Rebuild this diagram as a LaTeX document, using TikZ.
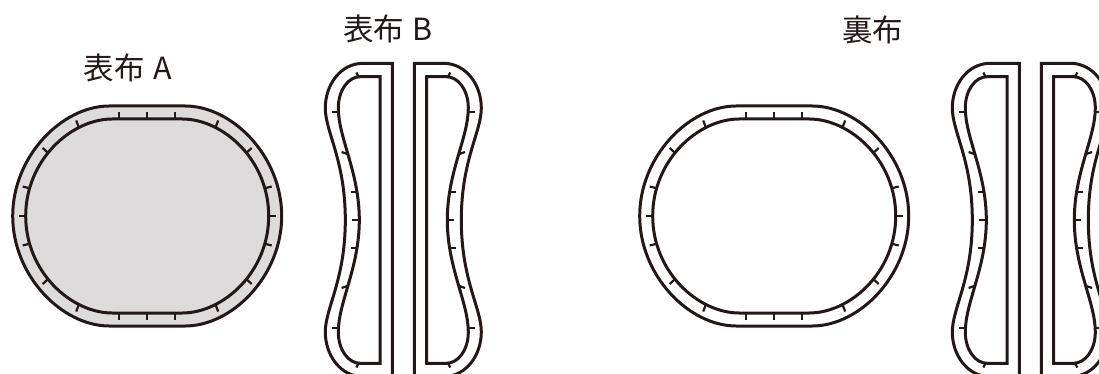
\documentclass[tikz,border=0pt]{standalone}
\usepackage{fontspec}
\setmainfont{Noto Sans CJK JP}
\definecolor{ink}{HTML}{231815}
\definecolor{cloth}{HTML}{DDDBDC}
\tikzset{
  x=1pt,y=-1pt,
  seam/.style={draw=ink,line width=3pt,line join=miter},
  tickmark/.style={draw=ink,line width=2.2pt},
  caption/.style={font=\fontsize{30.5pt}{34pt}\selectfont,text=ink,inner sep=0pt,anchor=center},
  pics/oval/.style={code={
    \path[seam,#1] (-38,-110) -- (38,-110)
      .. controls (85,-110) and (134.5,-60) .. (134.5,0)
      .. controls (134.5,60) and (85,110) .. (38,110) -- (-38,110)
      .. controls (-85,110) and (-134.5,60) .. (-134.5,0)
      .. controls (-134.5,-60) and (-85,-110) .. (-38,-110) -- cycle;
    \path[seam,#1] (-35,-97) -- (35,-97)
      .. controls (76,-97) and (121.5,-56) .. (121.5,0)
      .. controls (121.5,56) and (76,97) .. (35,97) -- (-35,97)
      .. controls (-76,97) and (-121.5,56) .. (-121.5,0)
      .. controls (-121.5,-56) and (-76,-97) .. (-35,-97) -- cycle;
    \foreach \sx in {-1,1}{
      \draw[tickmark] (\sx*121.5,0) -- (\sx*128.5,0);
      \foreach \sy in {-1,1}{
        \draw[tickmark] (\sx*28,\sy*97) -- (\sx*28,\sy*104);
        \draw[tickmark] (\sx*68.5,\sy*89) -- (\sx*71,\sy*95.5);
        \draw[tickmark] (\sx*99,\sy*63) -- (\sx*104.5,\sy*68);
        \draw[tickmark] (\sx*117.5,\sy*27.7) -- (\sx*124.5,\sy*29.5);
      }
    }
    \foreach \sy in {-1,1} \draw[tickmark] (0,\sy*97) -- (0,\sy*104);
  }},
  pics/halfpiece/.style={code={
    \draw[seam] (-11,-156.7) -- (-40,-156.7)
      .. controls (-63,-156.7) and (-78,-135) .. (-78,-112)
      .. controls (-78,-88) and (-58,-60) .. (-58,0)
      .. controls (-58,60) and (-78,88) .. (-78,112)
      .. controls (-78,135) and (-63,156.7) .. (-40,156.7) -- (-11,156.7) -- cycle;
    \draw[seam] (-23.3,-143.3) -- (-43,-143.3)
      .. controls (-55,-143.3) and (-65,-130) .. (-65,-112)
      .. controls (-65,-82) and (-44,-48) .. (-44,0)
      .. controls (-44,48) and (-65,82) .. (-65,112)
      .. controls (-65,130) and (-55,143.3) .. (-43,143.3) -- (-23.3,143.3) -- cycle;
    \draw[tickmark] (-44,0) -- (-51,0);
    \foreach \sy in {-1,1}{
      \draw[tickmark] (-44.5,\sy*143) -- (-47,\sy*147.5);
      \draw[tickmark] (-65,\sy*108.3) -- (-71.3,\sy*108.3);
      \draw[tickmark] (-56,\sy*66) -- (-61.7,\sy*68);
      \draw[tickmark] (-46.6,\sy*28.3) -- (-52.6,\sy*28.3);
    }
  }},
  pics/pieces/.style={code={
    \pic {halfpiece};
    \pic[xscale=-1] {halfpiece};
  }}
}
\begin{document}
\begin{tikzpicture}
\useasboundingbox (0,0) rectangle (1099,374);
\clip (0,0) rectangle (1099,374);
\pic at (147.2,216) {oval={fill=cloth}};
\pic at (403.3,220) {pieces};
\pic at (774.2,216) {oval={}};
\pic at (1030.3,220) {pieces};
\node[caption] (labelA) at (128,67.5) {表布\hspace{2pt} A};
\node[caption] (labelB) at (388,29) {表布\hspace{2pt} B};
\node[caption] (labelC) at (872.5,30) {裏布};
\end{tikzpicture}
\end{document}
